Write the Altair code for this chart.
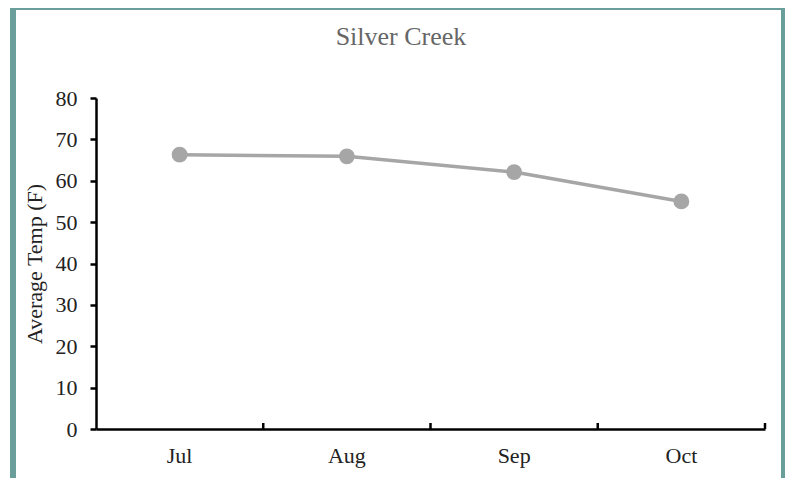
import altair as alt
import pandas as pd

months = ["Jul", "Aug", "Sep", "Oct"]
temps = [66.3, 65.9, 62.1, 55.0]
y_ticks = [0, 10, 20, 30, 40, 50, 60, 70, 80]
chart_title = "Silver Creek"

df = pd.DataFrame({"month": months, "temp": temps})

W, H = 669, 331
FONT = "Liberation Serif"

x_enc = alt.X(
    "month:N",
    sort=months,
    scale=alt.Scale(paddingInner=0, paddingOuter=0),
    axis=alt.Axis(
        title=None, labelAngle=0, ticks=False, tickSize=0, labelPadding=16,
        labelFontSize=22, labelFont=FONT, labelColor="#222222",
        domainColor="#000000", domainWidth=2.5,
    ),
)
y_enc = alt.Y(
    "temp:Q",
    scale=alt.Scale(domain=[0, 80], nice=False),
    axis=alt.Axis(
        values=y_ticks, title="Average Temp (F)", grid=False,
        labelFontSize=22, labelFont=FONT, labelColor="#222222", labelPadding=13,
        tickSize=6, tickWidth=2.5, tickColor="#000000",
        domainColor="#000000", domainWidth=2.5,
        titleFont=FONT, titleFontSize=22, titleFontWeight="normal",
        titleColor="#222222", titlePadding=9,
    ),
)

line = alt.Chart(df).mark_line(color="#a6a6a6", strokeWidth=3.5).encode(x=x_enc, y=y_enc)
pts = alt.Chart(df).mark_point(filled=True, opacity=1, color="#a6a6a6", size=250).encode(x=x_enc, y=y_enc)

ticks = alt.Chart(df).mark_rule(color="#000000", strokeWidth=2.5).encode(
    x=alt.X("month:N", sort=months, bandPosition=1),
    y=alt.value(H),
    y2=alt.value(H - 6),
)

one = pd.DataFrame({"t": [chart_title]})

border = alt.Chart(one).mark_rect(
    filled=False, stroke="#6a9e9b", strokeWidth=6
).encode(
    x=alt.value(-83), x2=alt.value(688),
    y=alt.value(-91), y2=alt.value(420),
)

title = alt.Chart(one).mark_text(
    font=FONT, fontSize=26, color="#666666", align="center", baseline="alphabetic"
).encode(
    text="t:N", x=alt.value(305), y=alt.value(-53),
)

chart = alt.layer(border, title, line, pts, ticks).properties(
    width=W, height=H,
    autosize=alt.AutoSizeParams(type="none"),
    padding={"left": 88, "top": 90, "right": 20, "bottom": 49},
    background="white",
).configure_view(stroke="transparent", strokeWidth=0)

chart.save("out.html", embed_options={"renderer": "svg", "actions": False})
